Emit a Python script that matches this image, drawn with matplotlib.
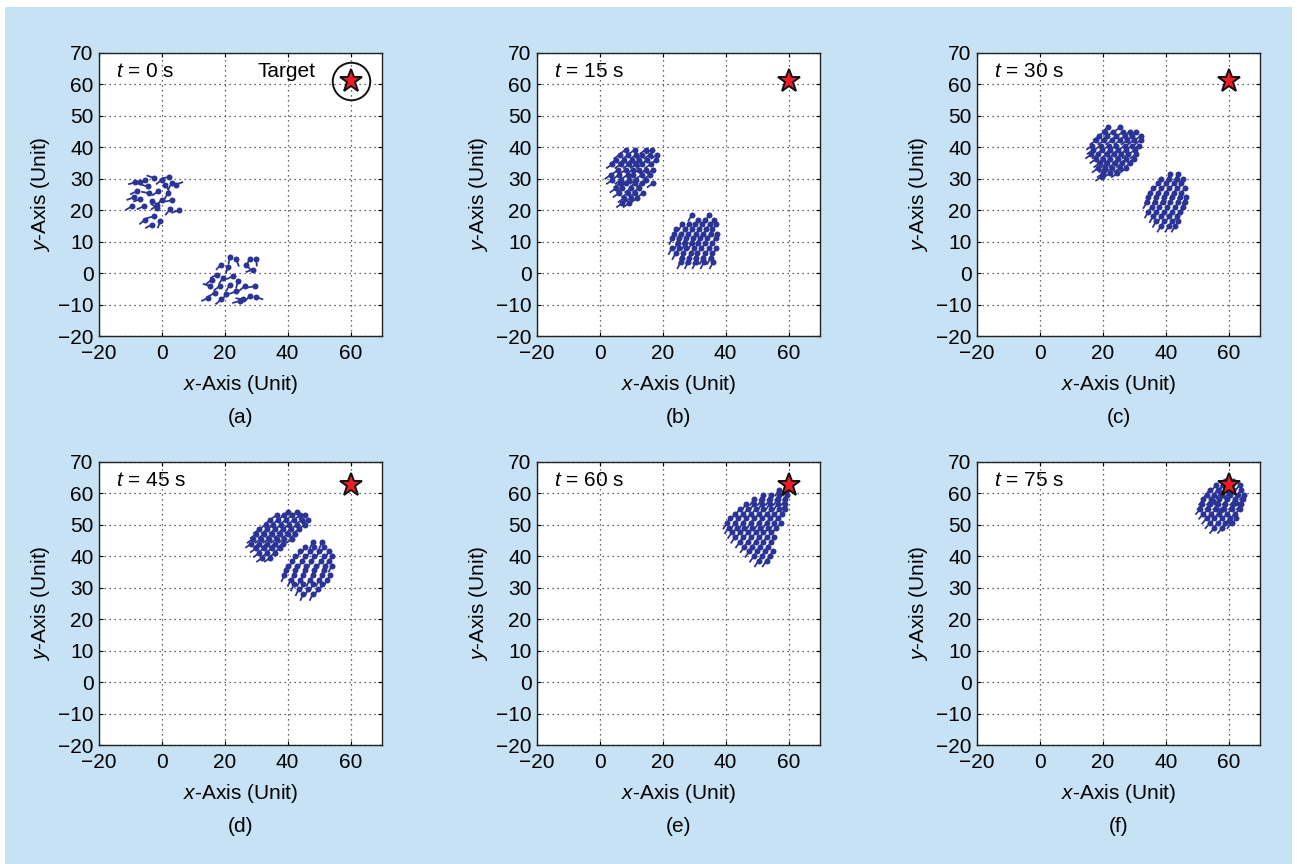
import numpy as np
import matplotlib.pyplot as plt
from matplotlib.collections import LineCollection
from matplotlib.patches import Rectangle

plt.rcParams['font.family'] = ['Liberation Sans', 'DejaVu Sans']
plt.rcParams['mathtext.fontset'] = 'custom'
plt.rcParams['mathtext.it'] = 'Liberation Sans:italic'
plt.rcParams['mathtext.rm'] = 'Liberation Sans'

# swarm snapshots: agent head positions (x, y) and headings in degrees
# (a) t = 0 s, random initial headings
a_x = [-8.4, -5.3, -2.6, 0.0, 2.4, 4.5, 3.2, -7.9, -4.2, -1.1, -6.8, -3.2, 0.0, 3.2, -9.5,
       -5.8, -1.6, 2.6, 5.3, -5.3, -2.6, -0.5, -3.2, -6.8, 1.1, -9.0, -4.5, 2.0, -1.5,
       21.6, 23.7, 27.9, 30.0, 18.9, 21.1, 26.8, 28.9, 17.4, 15.8, 19.5, 22.6, 24.2, 15.3,
       18.4, 21.6, 26.3, 29.5, 16.8, 20.5, 23.7, 25.8, 27.9, 30.0, 14.7, 18.9, 24.7]
a_y = [28.8, 29.5, 30.2, 29.7, 30.5, 28.1, 28.6, 26.0, 25.4, 26.0, 23.5, 22.8, 23.3, 23.1, 21.2,
       21.2, 20.7, 20.2, 19.9, 17.0, 18.0, 16.5, 15.4, 28.8, 28.1, 24.0, 27.5, 25.5, 21.5,
       5.1, 4.3, 4.3, 4.5, 2.7, 2.0, 2.7, 1.1, -0.5, -2.1, -1.5, -1.0, -2.6, -4.2,
       -4.2, -3.7, -4.2, -4.2, -6.3, -6.8, -5.8, -8.4, -7.4, -7.6, -7.9, -8.4, -8.9]
a_hd = [15, 30, -20, 40, 10, 200, 60, 25, -10, 35, 20, 150, 45, 10, 30, 25, -35, 50, 20,
        40, 15, 70, 30, 5, 120, 20, -15, 60, 35,
        80, 110, 60, 95, 45, 70, 130, 20, 30, 40, 55, 25, 75, -20, 35, 60, 40, 10,
        30, 50, 20, -10, 45, 160, 25, 40, 15]

# (b) t = 15 s
b1_x = [8.3, 11.2, 14.6, 16.5, 6.3, 9.1, 11.6, 13.5, 15.9, 18.2, 5.1, 7.7, 10.2, 12.5, 15.1, 18.0,
        4.0, 6.7, 9.3, 11.6, 13.5, 16.2, 5.9, 8.2, 10.4, 12.3, 14.6, 16.9, 3.5, 6.1, 8.8, 10.7,
        13.3, 15.9, 4.0, 6.7, 9.3, 11.4, 14.6, 6.3, 8.2, 11.2, 13.5, 16.9, 5.1, 7.2, 9.8, 12.3,
        6.1, 8.8, 11.2, 13.8, 7.7, 9.8, 11.9, 7.2, 9.3]
b1_y = [39.2, 39.2, 39.2, 39.2, 37.6, 37.6, 37.6, 37.6, 37.6, 37.6, 36.0, 36.0, 36.0, 36.0, 36.0, 36.0,
        34.6, 34.6, 34.6, 34.6, 34.6, 34.6, 32.8, 32.8, 32.8, 32.8, 32.8, 32.8, 31.2, 31.2, 31.2, 31.2,
        31.2, 31.2, 29.6, 29.6, 29.6, 29.6, 29.6, 28.5, 28.5, 28.5, 28.5, 28.5, 26.9, 26.9, 26.9, 26.9,
        25.4, 25.4, 25.4, 25.4, 23.8, 23.8, 23.8, 22.2, 22.2]
b1_hd = 35
b2_x = [29.2, 34.7, 31.3, 33.4, 36.3, 26.2, 28.4, 30.3, 32.6, 34.9, 37.0, 24.3, 27.1, 29.4, 31.5,
        33.9, 35.8, 23.6, 25.7, 28.1, 30.5, 32.8, 35.2, 37.4, 23.1, 25.2, 27.3, 29.6, 31.7, 34.2,
        36.8, 24.7, 27.1, 29.2, 31.3, 33.4, 35.8, 22.9, 25.2, 27.5, 29.9, 32.1, 34.7, 37.0, 24.1,
        26.5, 28.9, 31.0, 33.4, 35.8, 26.2, 28.4, 30.7, 32.8, 35.2, 25.7, 28.1, 30.5, 33.1, 36.0]
b2_y = [18.5, 18.5, 16.9, 16.9, 16.9, 15.7, 15.7, 15.7, 15.7, 15.7, 15.7, 14.0, 14.0, 14.0, 14.0,
        14.0, 14.0, 12.5, 12.5, 12.5, 12.5, 12.5, 12.5, 12.5, 11.1, 11.1, 11.1, 11.1, 11.1, 11.1,
        11.1, 9.5, 9.5, 9.5, 9.5, 9.5, 9.5, 7.9, 7.9, 7.9, 7.9, 7.9, 7.9, 7.9, 6.3,
        6.3, 6.3, 6.3, 6.3, 6.3, 4.8, 4.8, 4.8, 4.8, 4.8, 3.4, 3.4, 3.4, 3.4, 3.4]
b2_hd = 62

# (c) t = 30 s
c1_x = [21.7, 25.6, 20.6, 23.3, 26.5, 28.6, 30.5, 18.8, 21.4, 24.3, 27.0, 29.4, 32.0, 17.8, 20.3,
        22.8, 25.4, 27.7, 29.8, 32.0, 16.7, 19.3, 22.0, 24.3, 27.0, 29.4, 31.5, 16.9, 19.9, 22.4,
        24.9, 27.5, 30.2, 16.4, 18.5, 21.2, 23.5, 25.9, 28.0, 30.5, 17.8, 20.1, 22.4, 24.9, 27.5,
        29.8, 19.0, 21.4, 23.8, 26.2, 28.8, 18.5, 20.6, 22.8, 25.4, 27.5, 20.1, 22.2, 24.6, 19.6]
c1_y = [46.3, 46.3, 44.9, 44.9, 44.9, 44.9, 44.9, 43.5, 43.5, 43.5, 43.5, 43.5, 43.5, 42.1, 42.1,
        42.1, 42.1, 42.1, 42.1, 42.1, 40.5, 40.5, 40.5, 40.5, 40.5, 40.5, 40.5, 39.1, 39.1, 39.1,
        39.1, 39.1, 39.1, 37.7, 37.7, 37.7, 37.7, 37.7, 37.7, 37.7, 36.2, 36.2, 36.2, 36.2, 36.2,
        36.2, 34.9, 34.9, 34.9, 34.9, 34.9, 33.3, 33.3, 33.3, 33.3, 33.3, 31.7, 31.7, 31.7, 30.6]
c1_hd = 35
c2_x = [41.5, 44.0, 38.5, 41.0, 43.5, 45.5, 37.5, 40.0, 42.5, 45.0, 36.0, 38.5, 41.0, 43.5, 46.0,
        35.0, 37.5, 40.0, 42.5, 45.0, 34.5, 37.0, 39.5, 42.0, 44.5, 46.5, 34.0, 36.5, 39.0, 41.5,
        44.0, 46.0, 35.5, 38.0, 40.5, 43.0, 45.5, 34.5, 37.0, 39.5, 42.0, 44.5, 36.0, 38.5, 41.0,
        43.5, 37.0, 39.5, 42.0, 44.0, 38.5, 41.0, 43.0]
c2_y = [31.5, 31.5, 30.0, 30.0, 30.0, 30.0, 28.5, 28.5, 28.5, 28.5, 27.0, 27.0, 27.0, 27.0, 27.0,
        25.5, 25.5, 25.5, 25.5, 25.5, 24.0, 24.0, 24.0, 24.0, 24.0, 24.0, 22.5, 22.5, 22.5, 22.5,
        22.5, 22.5, 21.0, 21.0, 21.0, 21.0, 21.0, 19.5, 19.5, 19.5, 19.5, 19.5, 18.0, 18.0, 18.0,
        18.0, 16.5, 16.5, 16.5, 16.5, 15.0, 15.0, 15.0]
c2_hd = 60

# (d) t = 45 s
d1_x = [40.0, 43.0, 36.5, 39.0, 41.5, 44.0, 45.5, 34.5, 37.0, 39.5, 42.0, 44.5, 46.5, 33.0, 35.5,
        38.0, 40.5, 43.0, 45.5, 31.0, 33.5, 36.0, 38.5, 41.0, 43.5, 30.0, 32.5, 35.0, 37.5, 40.0,
        42.5, 29.0, 31.5, 34.0, 36.5, 39.0, 41.5, 28.5, 31.0, 33.5, 36.0, 38.5, 30.0, 32.5, 35.0,
        37.5, 31.0, 33.5, 36.0, 32.0, 34.5]
d1_y = [54.0, 54.0, 53.0, 53.0, 53.0, 53.0, 53.0, 51.5, 51.5, 51.5, 51.5, 51.5, 51.5, 50.0, 50.0,
        50.0, 50.0, 50.0, 50.0, 48.5, 48.5, 48.5, 48.5, 48.5, 48.5, 47.0, 47.0, 47.0, 47.0, 47.0,
        47.0, 45.5, 45.5, 45.5, 45.5, 45.5, 45.5, 44.0, 44.0, 44.0, 44.0, 44.0, 42.5, 42.5, 42.5,
        42.5, 41.0, 41.0, 41.0, 39.5, 39.5]
d1_hd = 35
d2_x = [48.0, 51.0, 45.5, 48.5, 51.5, 44.0, 47.0, 50.0, 53.0, 42.5, 45.5, 48.5, 51.5, 54.0, 41.5,
        44.5, 47.5, 50.5, 53.0, 40.0, 43.0, 46.0, 49.0, 52.0, 54.0, 39.5, 42.5, 45.5, 48.5, 51.5,
        39.0, 42.0, 45.0, 48.0, 51.0, 53.5, 41.0, 44.0, 47.0, 50.0, 52.5, 42.0, 45.0, 48.0, 51.0,
        43.5, 46.5, 49.5, 45.0, 48.0]
d2_y = [44.5, 44.5, 43.0, 43.0, 43.0, 41.5, 41.5, 41.5, 41.5, 40.0, 40.0, 40.0, 40.0, 40.0, 38.5,
        38.5, 38.5, 38.5, 38.5, 37.0, 37.0, 37.0, 37.0, 37.0, 37.0, 35.5, 35.5, 35.5, 35.5, 35.5,
        34.0, 34.0, 34.0, 34.0, 34.0, 34.0, 32.5, 32.5, 32.5, 32.5, 32.5, 31.0, 31.0, 31.0, 31.0,
        29.5, 29.5, 29.5, 28.0, 28.0]
d2_hd = 65

# (e) t = 60 s, groups merged
e_x = [57.0, 59.5, 52.0, 54.5, 57.0, 59.5, 49.0, 51.5, 54.0, 56.5, 59.0, 46.5, 49.0, 51.5, 54.0,
       56.5, 59.0, 44.5, 47.0, 49.5, 52.0, 54.5, 57.0, 59.0, 43.0, 45.5, 48.0, 50.5, 53.0, 55.5,
       58.0, 41.5, 44.0, 46.5, 49.0, 51.5, 54.0, 56.5, 40.5, 43.0, 45.5, 48.0, 50.5, 53.0, 55.5,
       57.5, 41.0, 43.5, 46.0, 48.5, 51.0, 53.5, 56.0, 42.0, 44.5, 47.0, 49.5, 52.0, 54.5, 43.0,
       45.5, 48.0, 50.5, 53.0, 55.5, 44.5, 47.0, 49.5, 52.0, 54.5, 46.0, 48.5, 51.0, 53.5, 47.5,
       50.0, 52.5, 55.0, 49.0, 51.5, 54.0, 50.5, 53.0]
e_y = [61.0, 61.0, 59.5, 59.5, 59.5, 59.5, 58.0, 58.0, 58.0, 58.0, 58.0, 56.5, 56.5, 56.5, 56.5,
       56.5, 56.5, 55.0, 55.0, 55.0, 55.0, 55.0, 55.0, 55.0, 53.5, 53.5, 53.5, 53.5, 53.5, 53.5,
       53.5, 52.0, 52.0, 52.0, 52.0, 52.0, 52.0, 52.0, 50.5, 50.5, 50.5, 50.5, 50.5, 50.5, 50.5,
       50.5, 49.0, 49.0, 49.0, 49.0, 49.0, 49.0, 49.0, 47.5, 47.5, 47.5, 47.5, 47.5, 47.5, 46.0,
       46.0, 46.0, 46.0, 46.0, 46.0, 44.5, 44.5, 44.5, 44.5, 44.5, 43.0, 43.0, 43.0, 43.0, 41.5,
       41.5, 41.5, 41.5, 40.0, 40.0, 40.0, 38.5, 38.5]
e_hd = 55

# (f) t = 75 s, swarm around the target
f_x = [59.0, 61.5, 56.0, 58.5, 61.0, 63.5, 54.0, 56.5, 59.0, 61.5, 64.0, 53.0, 55.5, 58.0, 60.5,
       63.0, 65.0, 52.0, 54.5, 57.0, 59.5, 62.0, 64.5, 51.5, 54.0, 56.5, 59.0, 61.5, 64.0, 51.0,
       53.5, 56.0, 58.5, 61.0, 63.5, 52.0, 54.5, 57.0, 59.5, 62.0, 53.0, 55.5, 58.0, 60.5, 62.5,
       54.0, 56.5, 59.0, 61.0, 55.5, 58.0, 57.5, 60.0, 62.5, 55.0, 57.5, 60.0, 58.5]
f_y = [64.0, 64.0, 62.5, 62.5, 62.5, 62.5, 61.0, 61.0, 61.0, 61.0, 61.0, 59.5, 59.5, 59.5, 59.5,
       59.5, 59.5, 58.0, 58.0, 58.0, 58.0, 58.0, 58.0, 56.5, 56.5, 56.5, 56.5, 56.5, 56.5, 55.0,
       55.0, 55.0, 55.0, 55.0, 55.0, 53.5, 53.5, 53.5, 53.5, 53.5, 52.0, 52.0, 52.0, 52.0, 52.0,
       50.5, 50.5, 50.5, 50.5, 49.0, 49.0, 60.0, 60.0, 57.0, 57.5, 54.5, 51.0, 63.0]
f_hd = 50

times = [0, 15, 30, 45, 60, 75]
letters = ['(a)', '(b)', '(c)', '(d)', '(e)', '(f)']
target_x = [60, 60, 60, 60, 60, 60]
target_y = [61, 61, 61, 62.5, 62.5, 62.5]

swarms = [
    [(a_x, a_y, a_hd)],
    [(b1_x, b1_y, b1_hd), (b2_x, b2_y, b2_hd)],
    [(c1_x, c1_y, c1_hd), (c2_x, c2_y, c2_hd)],
    [(d1_x, d1_y, d1_hd), (d2_x, d2_y, d2_hd)],
    [(e_x, e_y, e_hd)],
    [(f_x, f_y, f_hd)],
]

agent_col = '#2b3394'
tail = 2.4
fs = 15

fig = plt.figure(figsize=(12.97, 8.64), dpi=100, facecolor='white')
fig.patches.append(Rectangle((5 / 1297, 0), 1287 / 1297, 857 / 864, transform=fig.transFigure,
                             facecolor='#c6e2f4', edgecolor='none', zorder=-10))

lefts = [0.0763, 0.4140, 0.7533]
bottoms = [0.6111, 0.1377]

for i in range(6):
    ax = fig.add_axes([lefts[i % 3], bottoms[i // 3], 0.2182, 0.3280])
    ax.set_facecolor('white')
    ax.set_xlim(-20, 70)
    ax.set_ylim(-20, 70)
    ax.set_xticks([-20, 0, 20, 40, 60])
    ax.set_yticks(np.arange(-20, 71, 10))
    ax.grid(True, linestyle=(0, (1, 3)), color='#333333', linewidth=0.9)
    ax.tick_params(direction='in', length=3, labelsize=fs, top=True, right=True)
    ax.tick_params(axis='x', pad=6)
    ax.tick_params(axis='y', pad=4)
    for s in ax.spines.values():
        s.set_linewidth(1.0)
        s.set_color('#222222')

    for gx, gy, ghd in swarms[i]:
        gx = np.array(gx)
        gy = np.array(gy)
        th = np.radians(np.broadcast_to(np.array(ghd, dtype=float), gx.shape))
        segs = [[(x - tail * np.cos(t), y - tail * np.sin(t)), (x, y)] for x, y, t in zip(gx, gy, th)]
        ax.add_collection(LineCollection(segs, colors=agent_col, linewidths=1.3, zorder=3))
        ax.plot(gx, gy, 'o', ms=4.3, color=agent_col, mec='none', zorder=4)

    ax.plot(target_x[i], target_y[i], '*', ms=17, mfc='#ee1c24', mec='#111111', mew=1.4, zorder=6)
    if i == 0:
        ax.plot(target_x[i], target_y[i], 'o', ms=27, mfc='none', mec='#111111', mew=1.4, zorder=6)
        ax.text(0.56, 0.933, 'Target', transform=ax.transAxes, fontsize=fs, va='center', ha='left')

    ax.text(0.06, 0.933, r'$t$ = %d s' % times[i], transform=ax.transAxes, fontsize=fs,
            va='center', ha='left')
    ax.set_xlabel(r'$x$-Axis (Unit)', fontsize=fs, labelpad=7)
    ax.set_ylabel(r'$y$-Axis (Unit)', fontsize=fs, labelpad=4)
    ax.text(0.5, -0.288, letters[i], transform=ax.transAxes, fontsize=fs, ha='center', va='center')

fig.savefig('out.png', dpi=100, facecolor=fig.get_facecolor())
